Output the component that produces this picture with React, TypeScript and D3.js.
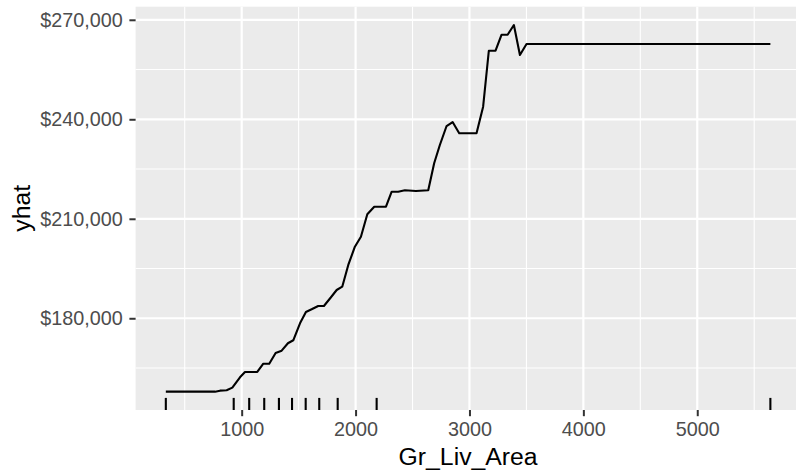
import React, { useEffect, useRef } from "react";
import * as d3 from "d3";

// partial dependence of yhat on Gr_Liv_Area
const grLivArea = [
  334, 766, 810, 868, 918, 985, 1029, 1137, 1190, 1242, 1298, 1351, 1406, 1453,
  1512, 1564, 1614, 1672, 1722, 1784, 1834, 1883, 1936, 1994, 2047, 2103, 2164,
  2267, 2317, 2374, 2433, 2530, 2638, 2690, 2740, 2799, 2852, 2910, 3062, 3120,
  3170, 3229, 3282, 3335, 3390, 3443, 3501, 5642,
];
const yhat = [
  157870, 157870, 158170, 158290, 159080, 162210, 163810, 163810, 166310, 166310,
  169540, 170230, 172460, 173370, 178490, 181900, 182710, 183710, 183710, 186330,
  188530, 189530, 196070, 201590, 204600, 211350, 213650, 213650, 218170, 218170,
  218590, 218380, 218590, 226730, 232250, 237970, 239180, 235770, 235770, 243790,
  260670, 260670, 265500, 265500, 268420, 259380, 262700, 262700,
];

// rug marks along the x axis
const rugValues = [334, 930, 1066, 1198, 1327, 1442, 1562, 1681, 1843, 2185, 5642];

const xBreaks = [1000, 2000, 3000, 4000, 5000];
const xMinorBreaks = [500, 1500, 2500, 3500, 4500, 5500];
const yBreaks = [180000, 210000, 240000, 270000];
const yMinorBreaks = [165000, 195000, 225000, 255000];

const expand = (lo: number, hi: number) => {
  const pad = (hi - lo) * 0.05;
  return [lo - pad, hi + pad];
};

export default function App() {
  const svgRef = useRef<SVGSVGElement | null>(null);

  useEffect(() => {
    const width = 796;
    const height = 470;
    const panel = { left: 135.6, right: 800.6, top: 6.7, bottom: 410 };

    const svg = d3.select(svgRef.current);
    svg.selectAll("*").remove();
    svg.attr("width", width).attr("height", height);

    const data = grLivArea.map((x, i) => ({ x, y: yhat[i] }));

    const xScale = d3
      .scaleLinear()
      .domain(expand(d3.min(rugValues)!, d3.max(rugValues)!))
      .range([panel.left, panel.right]);

    const yScale = d3
      .scaleLinear()
      .domain(expand(d3.min(yhat)!, d3.max(yhat)!))
      .range([panel.bottom, panel.top]);

    svg
      .append("rect")
      .attr("x", panel.left)
      .attr("y", panel.top)
      .attr("width", panel.right - panel.left)
      .attr("height", panel.bottom - panel.top)
      .attr("fill", "#EBEBEB");

    const grid = svg.append("g");
    grid
      .selectAll(".xminor")
      .data(xMinorBreaks)
      .enter()
      .append("line")
      .attr("x1", (d) => xScale(d))
      .attr("x2", (d) => xScale(d))
      .attr("y1", panel.top)
      .attr("y2", panel.bottom)
      .attr("stroke", "#fff")
      .attr("stroke-width", 1.1);
    grid
      .selectAll(".yminor")
      .data(yMinorBreaks)
      .enter()
      .append("line")
      .attr("x1", panel.left)
      .attr("x2", panel.right)
      .attr("y1", (d) => yScale(d))
      .attr("y2", (d) => yScale(d))
      .attr("stroke", "#fff")
      .attr("stroke-width", 1.1);
    grid
      .selectAll(".xmajor")
      .data(xBreaks)
      .enter()
      .append("line")
      .attr("x1", (d) => xScale(d))
      .attr("x2", (d) => xScale(d))
      .attr("y1", panel.top)
      .attr("y2", panel.bottom)
      .attr("stroke", "#fff")
      .attr("stroke-width", 2.2);
    grid
      .selectAll(".ymajor")
      .data(yBreaks)
      .enter()
      .append("line")
      .attr("x1", panel.left)
      .attr("x2", panel.right)
      .attr("y1", (d) => yScale(d))
      .attr("y2", (d) => yScale(d))
      .attr("stroke", "#fff")
      .attr("stroke-width", 2.2);

    const line = d3
      .line<{ x: number; y: number }>()
      .x((d) => xScale(d.x))
      .y((d) => yScale(d.y));

    svg
      .append("path")
      .datum(data)
      .attr("d", line)
      .attr("fill", "none")
      .attr("stroke", "#000")
      .attr("stroke-width", 2.1)
      .attr("stroke-linejoin", "round");

    // rug
    const rugLen = (panel.bottom - panel.top) * 0.03;
    svg
      .selectAll(".rug")
      .data(rugValues)
      .enter()
      .append("line")
      .attr("x1", (d) => xScale(d))
      .attr("x2", (d) => xScale(d))
      .attr("y1", panel.bottom)
      .attr("y2", panel.bottom - rugLen)
      .attr("stroke", "#000")
      .attr("stroke-width", 2.1);

    const font = "'Liberation Sans', Arial, sans-serif";

    const xAxis = d3
      .axisBottom(xScale)
      .tickValues(xBreaks)
      .tickSize(6.2)
      .tickPadding(6)
      .tickFormat(d3.format("d"));
    const gx = svg
      .append("g")
      .attr("transform", `translate(0,${panel.bottom})`)
      .call(xAxis);
    gx.select(".domain").remove();
    gx.selectAll("line").attr("stroke", "#333333").attr("stroke-width", 2);
    gx.selectAll("text")
      .attr("fill", "#4D4D4D")
      .style("font-family", font)
      .style("font-size", "19.8px");

    const yAxis = d3
      .axisLeft(yScale)
      .tickValues(yBreaks)
      .tickSize(6.2)
      .tickPadding(6.7)
      .tickFormat(d3.format("$,"));
    const gy = svg
      .append("g")
      .attr("transform", `translate(${panel.left},0)`)
      .call(yAxis);
    gy.select(".domain").remove();
    gy.selectAll("line").attr("stroke", "#333333").attr("stroke-width", 2);
    gy.selectAll("text")
      .attr("fill", "#4D4D4D")
      .style("font-family", font)
      .style("font-size", "19.8px");

    svg
      .append("text")
      .attr("x", (panel.left + panel.right) / 2)
      .attr("y", 465)
      .attr("text-anchor", "middle")
      .style("font-family", font)
      .style("font-size", "24.75px")
      .attr("fill", "#000")
      .text("Gr_Liv_Area");

    svg
      .append("text")
      .attr("transform", `translate(30,${(panel.top + panel.bottom) / 2}) rotate(-90)`)
      .attr("text-anchor", "middle")
      .style("font-family", font)
      .style("font-size", "24.75px")
      .attr("fill", "#000")
      .text("yhat");
  }, []);

  return (
    <div>
      <svg
        ref={svgRef}
        style={{ position: "absolute", left: 0, top: 0, background: "#fff" }}
      ></svg>
    </div>
  );
}
